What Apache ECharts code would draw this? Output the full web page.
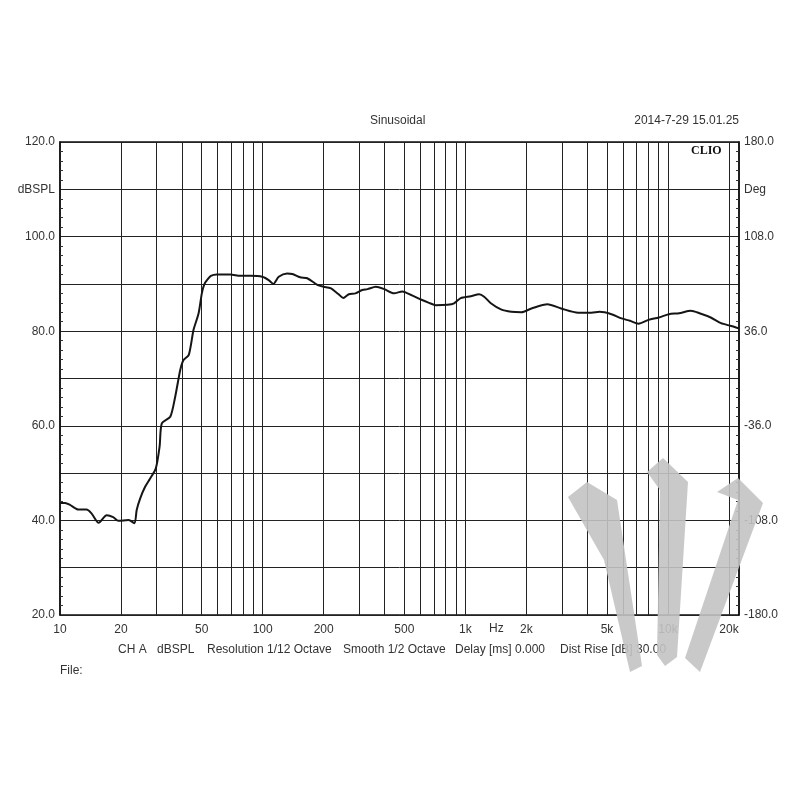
<!DOCTYPE html>
<html>
<head>
<meta charset="utf-8">
<script src="https://cdn.jsdelivr.net/npm/echarts@6/dist/echarts.min.js"></script>
<style>
html,body{margin:0;padding:0;background:#fff;}
#chart{width:800px;height:800px;}
</style>
</head>
<body>
<div id="chart"></div>
<script>
// Frequency (Hz) and SPL (dB)
const freqHz = [10, 10.6, 11.2, 12.3, 13.5, 14.3, 15.5, 17.0, 18.3, 19.4, 21.8, 23.3, 23.9, 24.9, 26.3, 27.8, 29.7, 31.0, 31.8, 35.0, 37.0, 39.2, 40.7, 43.2, 45.6, 48.3, 50.1, 51.5, 53.1, 55.5, 59.4, 69.2, 77.7, 87.2, 99.6, 107, 113, 120, 132, 140, 153, 166, 186, 200, 216, 237, 250, 266, 287, 310, 329, 362, 398, 445, 489, 537, 603, 662, 715, 816, 880, 949, 1064, 1170, 1238, 1336, 1499, 1685, 1890, 2121, 2542, 2970, 3600, 4192, 4600, 5260, 5900, 6490, 7140, 8020, 9000, 10100, 11340, 12960, 14300, 16250, 18250, 20500, 22300];
const splDb = [43.7, 43.7, 43.3, 42.3, 42.3, 41.5, 39.5, 41.1, 40.7, 39.9, 40.1, 39.4, 42.2, 44.7, 47.1, 48.8, 51.0, 55.6, 60.5, 61.9, 66.1, 71.8, 73.9, 75.0, 80.3, 83.8, 88.0, 89.9, 90.8, 91.7, 92.0, 92.0, 91.7, 91.7, 91.5, 90.8, 90.0, 91.5, 92.2, 92.1, 91.4, 91.2, 89.8, 89.4, 89.1, 87.8, 87.0, 87.8, 88.0, 88.7, 88.9, 89.4, 88.9, 88.0, 88.4, 87.7, 86.7, 86.0, 85.5, 85.6, 85.9, 87.0, 87.4, 87.8, 87.3, 85.9, 84.6, 84.1, 84.0, 84.8, 85.7, 84.8, 83.9, 83.9, 84.1, 83.6, 82.7, 82.2, 81.6, 82.4, 82.9, 83.6, 83.8, 84.3, 83.8, 82.9, 81.7, 81.1, 80.6];

// Axis tick / grid / label values
const xGridHz = [20,30,40,50,60,70,80,90,100,200,300,400,500,600,700,800,900,1000,2000,3000,4000,5000,6000,7000,8000,9000,10000,20000];
const xLabelHz = [10,20,50,100,200,500,1000,2000,5000,10000,20000];
const xMin = 10, xMax = 22400;
const dbMin = 20, dbMax = 120, dbStep = 10;
const degMin = -180, degMax = 180, degStep = 36;

const texts = {
  title: 'Sinusoidal',
  date: '2014-7-29 15.01.25',
  brand: 'CLIO',
  unitX: 'Hz',
  file: 'File:'
};
const footerParts = ['CH A', 'dBSPL', 'Resolution 1/12 Octave', 'Smooth 1/2 Octave', 'Delay [ms] 0.000', 'Dist Rise [dB] 30.00'];
const footerLeft = [118, 157, 207, 343, 455, 560];

const chart = echarts.init(document.getElementById('chart'), null, {renderer: 'canvas'});
const FONT = 'Liberation Sans, Arial, sans-serif';
const lineData = freqHz.map((f, i) => [f, splDb[i]]);

function fmtHz(v) {
  if (v >= 1000) return (v / 1000) + 'k';
  return String(v);
}

const graphics = [
  {type: 'text', left: 370, top: 115, style: {text: texts.title, font: '12px ' + FONT, fill: '#333'}},
  {type: 'text', right: 61, top: 115, style: {text: texts.date, font: '12px ' + FONT, fill: '#333'}},
  {type: 'text', left: 691, top: 145, style: {text: texts.brand, font: 'bold 12px Liberation Serif, serif', fill: '#111'}},
  {type: 'text', left: 489, top: 623, style: {text: texts.unitX, font: '12px ' + FONT, fill: '#333'}},
  {type: 'text', left: 60, top: 665, style: {text: texts.file, font: '12px ' + FONT, fill: '#333'}},
  {type: 'polygon', z: 100, silent: true, shape: {points: [[568,497],[587,482],[617,500],[642,666],[630,672],[604,560]]}, style: {fill: 'rgba(195,195,195,0.9)'}},
  {type: 'polygon', z: 100, silent: true, shape: {points: [[647,472],[663,458],[688,482],[677,657],[665,666],[657,655],[660,490]]}, style: {fill: 'rgba(195,195,195,0.9)'}},
  {type: 'polygon', z: 100, silent: true, shape: {points: [[717,492],[738,478],[763,503],[700,672],[685,658],[738,500]]}, style: {fill: 'rgba(195,195,195,0.9)'}}
];
footerParts.forEach((t, i) => graphics.push({type: 'text', left: footerLeft[i], top: 644, style: {text: t, font: '12px ' + FONT, fill: '#333'}}));

const option = {
  backgroundColor: '#fff',
  animation: false,
  grid: {left: 60, right: 61, top: 142, bottom: 185, show: true, borderColor: '#111', borderWidth: 1.5, backgroundColor: 'transparent'},
  xAxis: {
    type: 'log', logBase: 10, min: xMin, max: xMax,
    axisLine: {show: false},
    axisTick: {show: false, customValues: xGridHz},
    axisLabel: {customValues: xLabelHz, formatter: fmtHz, color: '#333', fontSize: 12, fontFamily: FONT, margin: 9, showMinLabel: true, showMaxLabel: true},
    splitLine: {show: true, lineStyle: {color: '#222', width: 1}},
    minorTick: {show: false}, minorSplitLine: {show: false}
  },
  yAxis: [{
    type: 'value', min: dbMin, max: dbMax, interval: dbStep, position: 'left',
    axisLine: {show: true, lineStyle: {color: '#111', width: 1.5}},
    axisTick: {show: false, inside: true},
    minorTick: {show: true, splitNumber: 5, length: 3, lineStyle: {color: '#333'}},
    axisLabel: {color: '#333', fontSize: 12, fontFamily: FONT, margin: 5,
      formatter: v => v === 110 ? 'dBSPL' : ((v - dbMin) % 20 === 0 ? v.toFixed(1) : '')},
    splitLine: {show: true, lineStyle: {color: '#222', width: 1}}
  }, {
    type: 'value', min: degMin, max: degMax, interval: degStep, position: 'right',
    axisLine: {show: true, lineStyle: {color: '#111', width: 1.5}},
    axisTick: {show: false, inside: true},
    minorTick: {show: true, splitNumber: 5, length: 3, lineStyle: {color: '#333'}},
    axisLabel: {color: '#333', fontSize: 12, fontFamily: FONT, margin: 5,
      formatter: v => v === 144 ? 'Deg' : ((v - degMin) % 72 === 0 ? v.toFixed(1) : '')},
    splitLine: {show: false}
  }],
  series: [{
    type: 'line', xAxisIndex: 0, yAxisIndex: 0, data: lineData,
    smooth: 0.25, showSymbol: false, z: 5,
    lineStyle: {color: '#151515', width: 2}
  }],
  graphic: graphics
};
chart.setOption(option);
</script>
</body>
</html>
